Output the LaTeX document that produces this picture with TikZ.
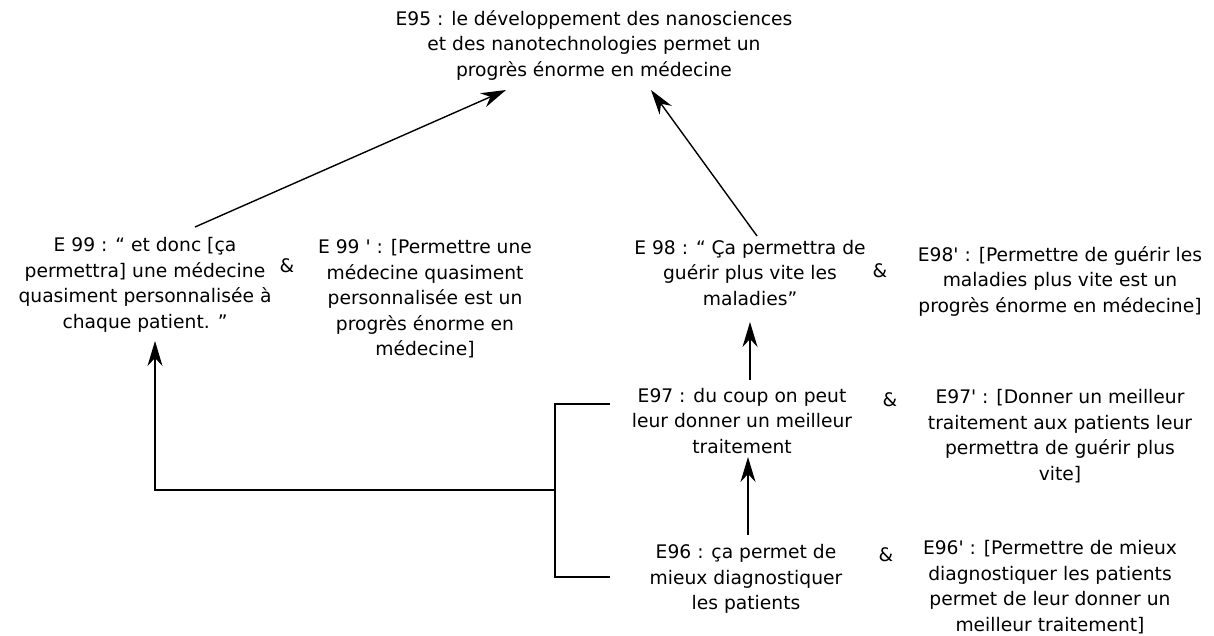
\documentclass[tikz,border=0pt]{standalone}
\usepackage{fontspec}
\setmainfont{DejaVu Sans}[Ligatures=TeXOff]
\usetikzlibrary{arrows.meta,positioning,calc}
\tikzset{every picture/.style={line width=1.4pt}}
\tikzset{
  stmt/.style={align=center, inner sep=2pt, font=\fontsize{18.7}{25.5}\selectfont},
  amp/.style={font=\fontsize{18.7}{22}\selectfont},
  arr/.style={-{Stealth[length=25pt,width=15pt,inset=8pt]}},
}

\begin{document}
\begin{tikzpicture}[x=1pt,y=-1pt]
    \useasboundingbox (0,0) rectangle (1214,635);

    % conclusion
    \node[stmt] (e95) at (594,45) {E95 : le développement des nanosciences\\et des nanotechnologies permet un\\progrès énorme en médecine};

    % gauche
    \node[stmt] (e99) at (145,285) {E 99 : “ et donc [ça\\permettra] une médecine\\quasiment personnalisée à\\chaque patient. ”};
    \node[amp] (a99) at (287,266) {\&};
    \node[stmt] (e99p) at (425,299) {E 99 ' : [Permettre une\\médecine quasiment\\personnalisée est un\\progrès énorme en\\médecine]};

    % droite
    \node[stmt] (e98) at (750,273) {E 98 : “ Ça permettra de\\guérir plus vite les\\maladies”};
    \node[amp] (a98) at (880,271) {\&};
    \node[stmt] (e98p) at (1060,281) {E98' : [Permettre de guérir les\\maladies plus vite est un\\progrès énorme en médecine]};

    \node[stmt] (e97) at (742,421) {E97 : du coup on peut\\leur donner un meilleur\\traitement};
    \node[amp] (a97) at (890,400) {\&};
    \node[stmt] (e97p) at (1060,436) {E97' : [Donner un meilleur\\traitement aux patients leur\\permettra de guérir plus\\vite]};

    \node[stmt] (e96) at (746,579) {E96 : ça permet de\\mieux diagnostiquer\\les patients};
    \node[amp] (a96) at (886,555) {\&};
    \node[stmt] (e96p) at (1050,587) {E96' : [Permettre de mieux\\diagnostiquer les patients\\permet de leur donner un\\meilleur traitement]};

    % fleches
    \coordinate (t99) at (195,227);
    \coordinate (h95a) at (506,90);
    \coordinate (t98) at (757,236);
    \coordinate (h95b) at (651,90);
    \coordinate (t97) at (750,380);
    \coordinate (h98) at (750,322);
    \coordinate (t96) at (748,535);
    \coordinate (h97) at (748,457);
    \draw[arr] (t99) -- (h95a);
    \draw[arr] (t98) -- (h95b);
    \draw[arr] (t97) -- (h98);
    \draw[arr] (t96) -- (h97);

    % accolade
    \coordinate (b1) at (610,404);
    \coordinate (b2) at (610,577);
    \coordinate (bm) at (555,490);
    \coordinate (h99) at (155,341);
    \draw (b1) -- (555,404) -- (555,577) -- (b2);
    \draw[arr] (bm) -- (h99 |- bm) -- (h99);
\end{tikzpicture}
\end{document}
